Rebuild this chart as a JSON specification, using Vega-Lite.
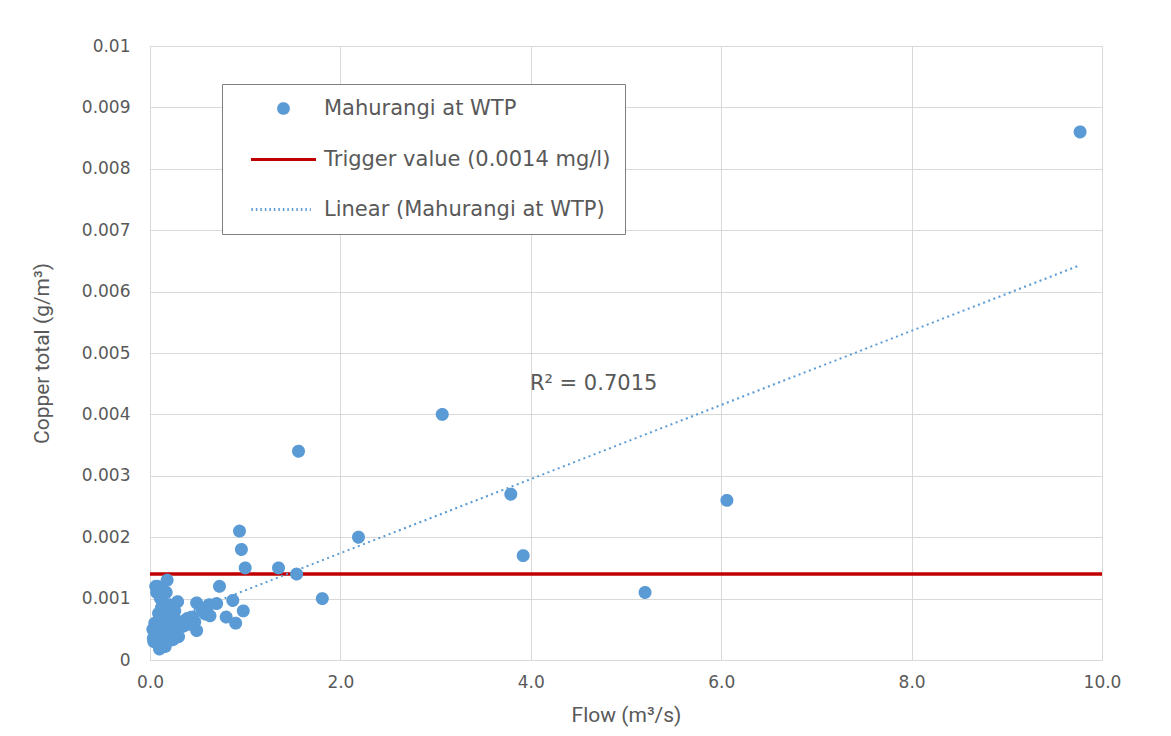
{
  "$schema": "https://vega.github.io/schema/vega-lite/v6.json",
  "width": 952,
  "height": 614,
  "autosize": {"type": "none"},
  "padding": {"left": 150, "top": 46, "right": 69, "bottom": 76},
  "background": "white",
  "config": {
    "view": {"stroke": null},
    "axis": {
      "gridColor": "#d9d9d9",
      "gridWidth": 1,
      "domainColor": "#d9d9d9",
      "ticks": false,
      "labelFont": "DejaVu Sans",
      "labelFontSize": 17,
      "labelColor": "#595959",
      "labelFlush": false,
      "titleFont": "Roboto",
      "titleFontSize": 21,
      "titleFontWeight": "normal",
      "titleColor": "#595959"
    },
    "legend": {
      "title": null,
      "orient": "none",
      "legendX": 72,
      "legendY": 38,
      "padding": 14,
      "strokeColor": "#7f7f7f",
      "fillColor": "white",
      "labelFont": "DejaVu Sans",
      "labelFontSize": 21,
      "labelColor": "#595959",
      "labelOffset": 30,
      "symbolOffset": 37,
      "rowPadding": 28,
      "labelLimit": 400,
      "symbolSize": 95,
      "symbolStrokeWidth": 3,
      "symbolFillColor": "#5b9bd5",
      "symbolOpacity": 1
    }
  },
  "datasets": {
    "points": [
      {"flow": 9.77, "copper": 0.0086, "series": "Mahurangi at WTP"},
      {"flow": 3.07, "copper": 0.0040, "series": "Mahurangi at WTP"},
      {"flow": 1.56, "copper": 0.0034, "series": "Mahurangi at WTP"},
      {"flow": 3.79, "copper": 0.0027, "series": "Mahurangi at WTP"},
      {"flow": 6.06, "copper": 0.0026, "series": "Mahurangi at WTP"},
      {"flow": 2.19, "copper": 0.0020, "series": "Mahurangi at WTP"},
      {"flow": 3.92, "copper": 0.0017, "series": "Mahurangi at WTP"},
      {"flow": 5.20, "copper": 0.0011, "series": "Mahurangi at WTP"},
      {"flow": 1.81, "copper": 0.0010, "series": "Mahurangi at WTP"},
      {"flow": 1.54, "copper": 0.0014, "series": "Mahurangi at WTP"},
      {"flow": 1.35, "copper": 0.0015, "series": "Mahurangi at WTP"},
      {"flow": 0.94, "copper": 0.0021, "series": "Mahurangi at WTP"},
      {"flow": 0.96, "copper": 0.0018, "series": "Mahurangi at WTP"},
      {"flow": 1.00, "copper": 0.0015, "series": "Mahurangi at WTP"},
      {"flow": 0.98, "copper": 0.0008, "series": "Mahurangi at WTP"},
      {"flow": 0.73, "copper": 0.0012, "series": "Mahurangi at WTP"},
      {"flow": 0.90, "copper": 0.0006, "series": "Mahurangi at WTP"},
      {"flow": 0.87, "copper": 0.00097, "series": "Mahurangi at WTP"},
      {"flow": 0.80, "copper": 0.0007, "series": "Mahurangi at WTP"},
      {"flow": 0.70, "copper": 0.00092, "series": "Mahurangi at WTP"},
      {"flow": 0.62, "copper": 0.0009, "series": "Mahurangi at WTP"},
      {"flow": 0.63, "copper": 0.00072, "series": "Mahurangi at WTP"},
      {"flow": 0.49, "copper": 0.00093, "series": "Mahurangi at WTP"},
      {"flow": 0.49, "copper": 0.00048, "series": "Mahurangi at WTP"},
      {"flow": 0.47, "copper": 0.00062, "series": "Mahurangi at WTP"},
      {"flow": 0.40, "copper": 0.00068, "series": "Mahurangi at WTP"},
      {"flow": 0.37, "copper": 0.00065, "series": "Mahurangi at WTP"},
      {"flow": 0.35, "copper": 0.00055, "series": "Mahurangi at WTP"},
      {"flow": 0.30, "copper": 0.00038, "series": "Mahurangi at WTP"},
      {"flow": 0.29, "copper": 0.00095, "series": "Mahurangi at WTP"},
      {"flow": 0.26, "copper": 0.0008, "series": "Mahurangi at WTP"},
      {"flow": 0.24, "copper": 0.00033, "series": "Mahurangi at WTP"},
      {"flow": 0.23, "copper": 0.0005, "series": "Mahurangi at WTP"},
      {"flow": 0.21, "copper": 0.00075, "series": "Mahurangi at WTP"},
      {"flow": 0.19, "copper": 0.0007, "series": "Mahurangi at WTP"},
      {"flow": 0.18, "copper": 0.0013, "series": "Mahurangi at WTP"},
      {"flow": 0.17, "copper": 0.0011, "series": "Mahurangi at WTP"},
      {"flow": 0.16, "copper": 0.00022, "series": "Mahurangi at WTP"},
      {"flow": 0.15, "copper": 0.0009, "series": "Mahurangi at WTP"},
      {"flow": 0.14, "copper": 0.0006, "series": "Mahurangi at WTP"},
      {"flow": 0.13, "copper": 0.0004, "series": "Mahurangi at WTP"},
      {"flow": 0.12, "copper": 0.00085, "series": "Mahurangi at WTP"},
      {"flow": 0.11, "copper": 0.001, "series": "Mahurangi at WTP"},
      {"flow": 0.11, "copper": 0.0003, "series": "Mahurangi at WTP"},
      {"flow": 0.10, "copper": 0.00065, "series": "Mahurangi at WTP"},
      {"flow": 0.10, "copper": 0.00018, "series": "Mahurangi at WTP"},
      {"flow": 0.09, "copper": 0.00076, "series": "Mahurangi at WTP"},
      {"flow": 0.09, "copper": 0.00054, "series": "Mahurangi at WTP"},
      {"flow": 0.08, "copper": 0.0012, "series": "Mahurangi at WTP"},
      {"flow": 0.07, "copper": 0.0011, "series": "Mahurangi at WTP"},
      {"flow": 0.07, "copper": 0.0004, "series": "Mahurangi at WTP"},
      {"flow": 0.06, "copper": 0.0012, "series": "Mahurangi at WTP"},
      {"flow": 0.05, "copper": 0.00043, "series": "Mahurangi at WTP"},
      {"flow": 0.05, "copper": 0.0006, "series": "Mahurangi at WTP"},
      {"flow": 0.04, "copper": 0.0003, "series": "Mahurangi at WTP"},
      {"flow": 0.035, "copper": 0.00035, "series": "Mahurangi at WTP"},
      {"flow": 0.03, "copper": 0.0005, "series": "Mahurangi at WTP"},
      {"flow": 0.12, "copper": 0.0005, "series": "Mahurangi at WTP"},
      {"flow": 0.20, "copper": 0.0006, "series": "Mahurangi at WTP"},
      {"flow": 0.25, "copper": 0.0004, "series": "Mahurangi at WTP"},
      {"flow": 0.33, "copper": 0.0006, "series": "Mahurangi at WTP"},
      {"flow": 0.42, "copper": 0.00058, "series": "Mahurangi at WTP"},
      {"flow": 0.55, "copper": 0.0008, "series": "Mahurangi at WTP"},
      {"flow": 0.58, "copper": 0.00075, "series": "Mahurangi at WTP"},
      {"flow": 0.45, "copper": 0.0007, "series": "Mahurangi at WTP"},
      {"flow": 0.27, "copper": 0.00065, "series": "Mahurangi at WTP"},
      {"flow": 0.16, "copper": 0.00045, "series": "Mahurangi at WTP"},
      {"flow": 0.14, "copper": 0.0008, "series": "Mahurangi at WTP"},
      {"flow": 0.20, "copper": 0.0009, "series": "Mahurangi at WTP"},
      {"flow": 0.22, "copper": 0.00035, "series": "Mahurangi at WTP"}
    ],
    "trigger": [
      {"copper": 0.0014, "series": "Trigger value (0.0014 mg/l)"}
    ],
    "trend": [
      {"flow": 0.03, "copper": 0.00055, "series": "Linear (Mahurangi at WTP)"},
      {"flow": 9.77, "copper": 0.00643, "series": "Linear (Mahurangi at WTP)"}
    ],
    "note": [
      {"flow": 4.66, "copper": 0.0045, "label": "R² = 0.7015"}
    ]
  },
  "layer": [
    {
      "data": {"name": "trigger"},
      "mark": {"type": "rule", "strokeWidth": 3.5},
      "encoding": {
        "y": {"field": "copper", "type": "quantitative", "scale": {"domain": [0, 0.01]}},
        "color": {"field": "series", "type": "nominal"}
      }
    },
    {
      "data": {"name": "trend"},
      "mark": {"type": "line", "strokeWidth": 2, "strokeDash": [2, 3.5]},
      "encoding": {
        "x": {"field": "flow", "type": "quantitative"},
        "y": {"field": "copper", "type": "quantitative"},
        "color": {"field": "series", "type": "nominal"}
      }
    },
    {
      "data": {"name": "points"},
      "mark": {"type": "point", "filled": false, "fill": "#5b9bd5", "opacity": 1, "size": 120},
      "encoding": {
        "x": {
          "field": "flow", "type": "quantitative",
          "scale": {"domain": [0, 10], "nice": false},
          "axis": {"title": "Flow (m³/s)", "values": [0, 2, 4, 6, 8, 10], "format": ".1f", "labelPadding": 14, "titlePadding": 14}
        },
        "y": {
          "field": "copper", "type": "quantitative",
          "scale": {"domain": [0, 0.01], "nice": false},
          "axis": {"title": "Copper total (g/m³)", "values": [0, 0.001, 0.002, 0.003, 0.004, 0.005, 0.006, 0.007, 0.008, 0.009, 0.01], "format": "~g", "labelPadding": 20, "titlePadding": 29}
        },
        "color": {
          "field": "series", "type": "nominal",
          "scale": {
            "domain": ["Mahurangi at WTP", "Trigger value (0.0014 mg/l)", "Linear (Mahurangi at WTP)"],
            "range": ["#5b9bd5", "#c00000", "#5b9bd5"]
          }
        },
        "shape": {
          "field": "series", "type": "nominal",
          "scale": {
            "domain": ["Mahurangi at WTP", "Trigger value (0.0014 mg/l)", "Linear (Mahurangi at WTP)"],
            "range": ["circle", "M-6.67,0H6.67", "M-6.6,0H5.6"]
          }
        },
        "strokeDash": {
          "field": "series", "type": "nominal",
          "scale": {
            "domain": ["Mahurangi at WTP", "Trigger value (0.0014 mg/l)", "Linear (Mahurangi at WTP)"],
            "range": [[1, 0], [1, 0], [1.5, 3]]
          }
        }
      }
    },
    {
      "data": {"name": "note"},
      "mark": {"type": "text", "font": "DejaVu Sans", "fontSize": 21, "color": "#595959"},
      "encoding": {
        "x": {"field": "flow", "type": "quantitative"},
        "y": {"field": "copper", "type": "quantitative"},
        "text": {"field": "label"}
      }
    }
  ]
}
